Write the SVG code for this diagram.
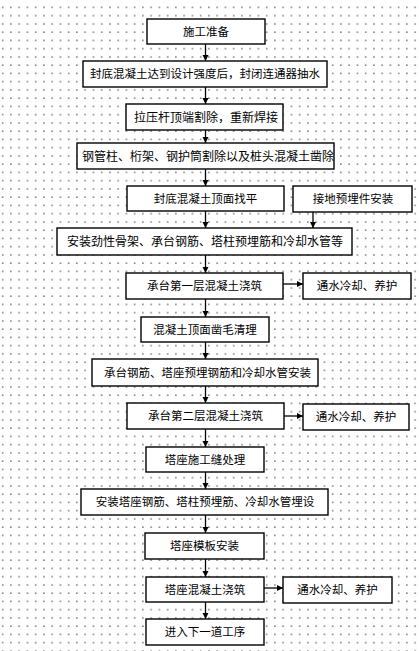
<svg xmlns="http://www.w3.org/2000/svg" width="419" height="651" viewBox="0 0 419 651">
<defs>
<pattern id="dots" patternUnits="userSpaceOnUse" x="0" y="0" width="8.25" height="8.25">
<rect x="2" y="6.8" width="1.3" height="1.3" fill="#4a4a4a"/>
</pattern>
<marker id="ah" markerUnits="userSpaceOnUse" markerWidth="7" markerHeight="7" refX="6" refY="3" orient="auto">
<path d="M0,0 L6,3 L0,6 z" fill="#000"/>
</marker>
<style>
.box{fill:#fff;stroke:#000;stroke-width:1.4}
.t{font-family:"Noto Sans CJK SC","Noto Sans CJK JP",sans-serif;font-size:11.5px;fill:#000;text-anchor:middle}
.b{font-size:12px}
.c{stroke:#000;stroke-width:1.3;fill:none;marker-end:url(#ah)}
</style>
</defs>
<rect x="0" y="0" width="419" height="651" fill="#fff"/>
<rect x="0" y="0" width="419" height="651" fill="url(#dots)"/>
<g id="connectors">
<line class="c" x1="205.5" y1="44" x2="205.5" y2="61"/>
<line class="c" x1="205.5" y1="87" x2="205.5" y2="104"/>
<line class="c" x1="205.5" y1="130" x2="205.5" y2="143"/>
<line class="c" x1="205.5" y1="169" x2="205.5" y2="186"/>
<line class="c" x1="205.5" y1="211" x2="205.5" y2="228"/>
<line class="c" x1="313" y1="212" x2="313" y2="228"/>
<line class="c" x1="205.5" y1="255" x2="205.5" y2="273"/>
<line class="c" x1="283" y1="284" x2="303" y2="284"/>
<line class="c" x1="205.5" y1="299" x2="205.5" y2="317"/>
<line class="c" x1="205.5" y1="342" x2="205.5" y2="359"/>
<line class="c" x1="205.5" y1="386" x2="205.5" y2="403"/>
<line class="c" x1="284" y1="416" x2="303" y2="416"/>
<line class="c" x1="205.5" y1="429" x2="205.5" y2="447"/>
<line class="c" x1="205.5" y1="472" x2="205.5" y2="489"/>
<line class="c" x1="205.5" y1="515" x2="205.5" y2="533"/>
<line class="c" x1="205.5" y1="559" x2="205.5" y2="577"/>
<line class="c" x1="264" y1="588" x2="283" y2="588"/>
<line class="c" x1="205.5" y1="602" x2="205.5" y2="619"/>
</g>
<g id="n1"><rect class="box" x="147" y="19" width="118" height="25"/><text class="t" x="206" y="36">施工准备</text></g>
<g id="n2"><rect class="box" x="83" y="61" width="244" height="26"/><text class="t" x="205" y="78.4">封底混凝土达到设计强度后，封闭连通器抽水</text></g>
<g id="n3"><rect class="box" x="126" y="104" width="157" height="26"/><text class="t b" x="206" y="121.6">拉压杆顶端割除，重新焊接</text></g>
<g id="n4"><rect class="box" x="77" y="143" width="257" height="26"/><text class="t b" x="208" y="160.6">钢管柱、桁架、钢护筒割除以及桩头混凝土凿除</text></g>
<g id="n5"><rect class="box" x="127" y="186" width="157" height="25"/><text class="t" x="205.5" y="202.9">封底混凝土顶面找平</text></g>
<g id="n6"><rect class="box" x="293" y="186" width="119" height="26"/><text class="t" x="353" y="203.4">接地预埋件安装</text></g>
<g id="n7"><rect class="box" x="57" y="228" width="295" height="27"/><text class="t b" x="205" y="246.1">安装劲性骨架、承台钢筋、塔柱预埋筋和冷却水管等</text></g>
<g id="n8"><rect class="box" x="126" y="273" width="157" height="26"/><text class="t" x="204.5" y="290.4">承台第一层混凝土浇筑</text></g>
<g id="n9"><rect class="box" x="303" y="273" width="108" height="26"/><text class="t" x="357" y="290.4">通水冷却、养护</text></g>
<g id="n10"><rect class="box" x="141" y="317" width="128" height="25"/><text class="t" x="205" y="333.9">混凝土顶面凿毛清理</text></g>
<g id="n11"><rect class="box" x="92" y="359" width="226" height="27"/><text class="t" x="207.5" y="376.9">承台钢筋、塔座预埋钢筋和冷却水管安装</text></g>
<g id="n12"><rect class="box" x="127" y="403" width="157" height="26"/><text class="t" x="205.5" y="420.4">承台第二层混凝土浇筑</text></g>
<g id="n13"><rect class="box" x="303" y="404" width="106" height="26"/><text class="t" x="356" y="421.4">通水冷却、养护</text></g>
<g id="n14"><rect class="box" x="146" y="447" width="118" height="25"/><text class="t" x="205" y="463.9">塔座施工缝处理</text></g>
<g id="n15"><rect class="box" x="81" y="489" width="247" height="26"/><text class="t" x="205" y="506.4">安装塔座钢筋、塔柱预埋筋、冷却水管埋设</text></g>
<g id="n16"><rect class="box" x="145" y="533" width="119" height="26"/><text class="t" x="204.5" y="550.4">塔座模板安装</text></g>
<g id="n17"><rect class="box" x="146" y="577" width="118" height="25"/><text class="t" x="205" y="593.9">塔座混凝土浇筑</text></g>
<g id="n18"><rect class="box" x="283" y="577" width="109" height="26"/><text class="t" x="337.5" y="594.4">通水冷却、养护</text></g>
<g id="n19"><rect class="box" x="146" y="619" width="118" height="26"/><text class="t" x="205" y="636.4">进入下一道工序</text></g>
</svg>
